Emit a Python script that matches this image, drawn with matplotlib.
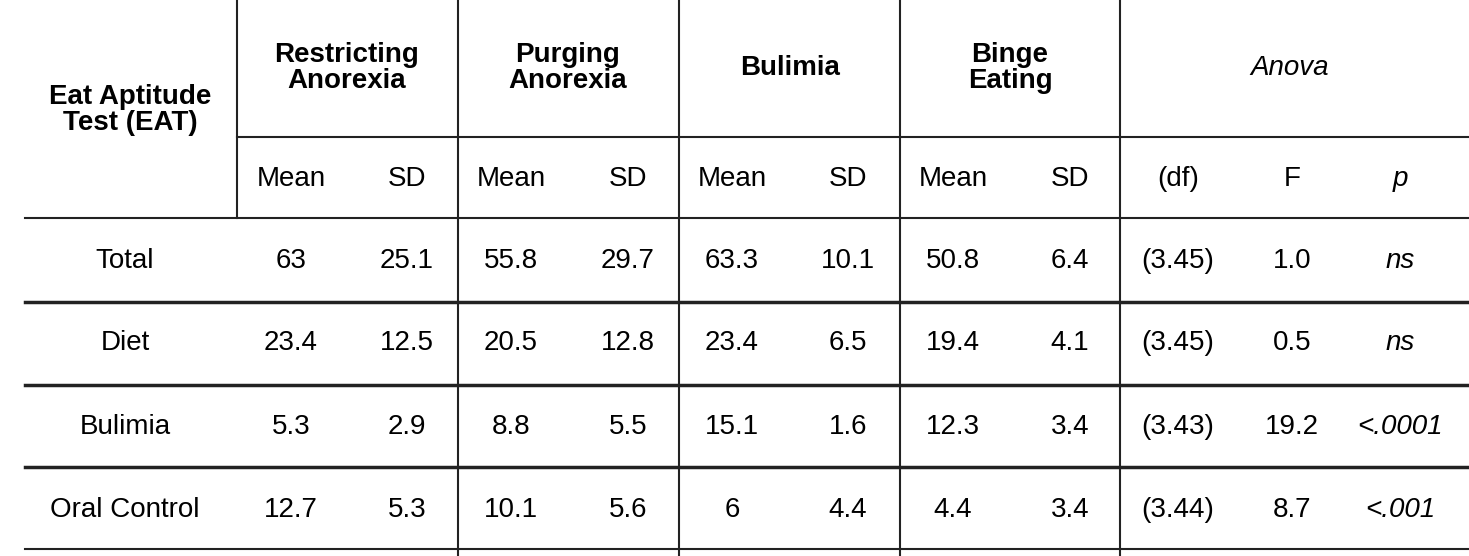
import matplotlib.pyplot as plt

plt.rcParams['font.family'] = ['Liberation Sans', 'DejaVu Sans']

groups = ["Restricting\nAnorexia", "Purging\nAnorexia", "Bulimia", "Binge\nEating"]
sub_labels = ["Mean", "SD"] * 4 + ["(df)", "F", "p"]
row_labels = ["Total", "Diet", "Bulimia", "Oral Control"]
values = [
    ["63", "25.1", "55.8", "29.7", "63.3", "10.1", "50.8", "6.4", "(3.45)", "1.0", "ns"],
    ["23.4", "12.5", "20.5", "12.8", "23.4", "6.5", "19.4", "4.1", "(3.45)", "0.5", "ns"],
    ["5.3", "2.9", "8.8", "5.5", "15.1", "1.6", "12.3", "3.4", "(3.43)", "19.2", "<.0001"],
    ["12.7", "5.3", "10.1", "5.6", "6", "4.4", "4.4", "3.4", "(3.44)", "8.7", "<.001"],
]

W, H = 1469, 556
fig = plt.figure(figsize=(W / 100, H / 100), dpi=100)
ax = fig.add_axes([0, 0, 1, 1])
ax.set_xlim(0, W)
ax.set_ylim(H, 0)
ax.axis('off')

fs = 20
col_x = [291, 407, 511, 628, 732, 848, 953, 1070, 1178, 1292, 1400]
row_y = [261, 343, 427, 510]
group_x = [347, 568, 790, 1010]
lc = '#222222'

# lines
for x in [458, 679, 900, 1120]:
    ax.plot([x, x], [0, H], color=lc, lw=1.5)
ax.plot([237, 237], [0, 218], color=lc, lw=1.5)
ax.plot([237, W], [137, 137], color=lc, lw=1.5)
ax.plot([25, W], [218, 218], color=lc, lw=1.5)
for y in [302, 385, 467]:
    ax.plot([25, W], [y, y], color=lc, lw=2.5)
ax.plot([25, W], [549, 549], color=lc, lw=1.5)

# header
ax.text(130, 110, "Eat Aptitude\nTest (EAT)", ha='center', va='center',
        fontsize=fs, fontweight='bold', linespacing=1.0)
for gx, g in zip(group_x, groups):
    ax.text(gx, 68, g, ha='center', va='center', fontsize=fs,
            fontweight='bold', linespacing=1.0)
ax.text(1290, 68, "Anova", ha='center', va='center', fontsize=fs, style='italic')
for cx, s in zip(col_x, sub_labels):
    ax.text(cx, 179, s, ha='center', va='center', fontsize=fs,
            style='italic' if s == 'p' else 'normal')

# body
for ry, lab, vals in zip(row_y, row_labels, values):
    ax.text(125, ry, lab, ha='center', va='center', fontsize=fs)
    for i, (cx, v) in enumerate(zip(col_x, vals)):
        ax.text(cx, ry, v, ha='center', va='center', fontsize=fs,
                style='italic' if i == 10 else 'normal')

fig.savefig('out.png', dpi=100)
